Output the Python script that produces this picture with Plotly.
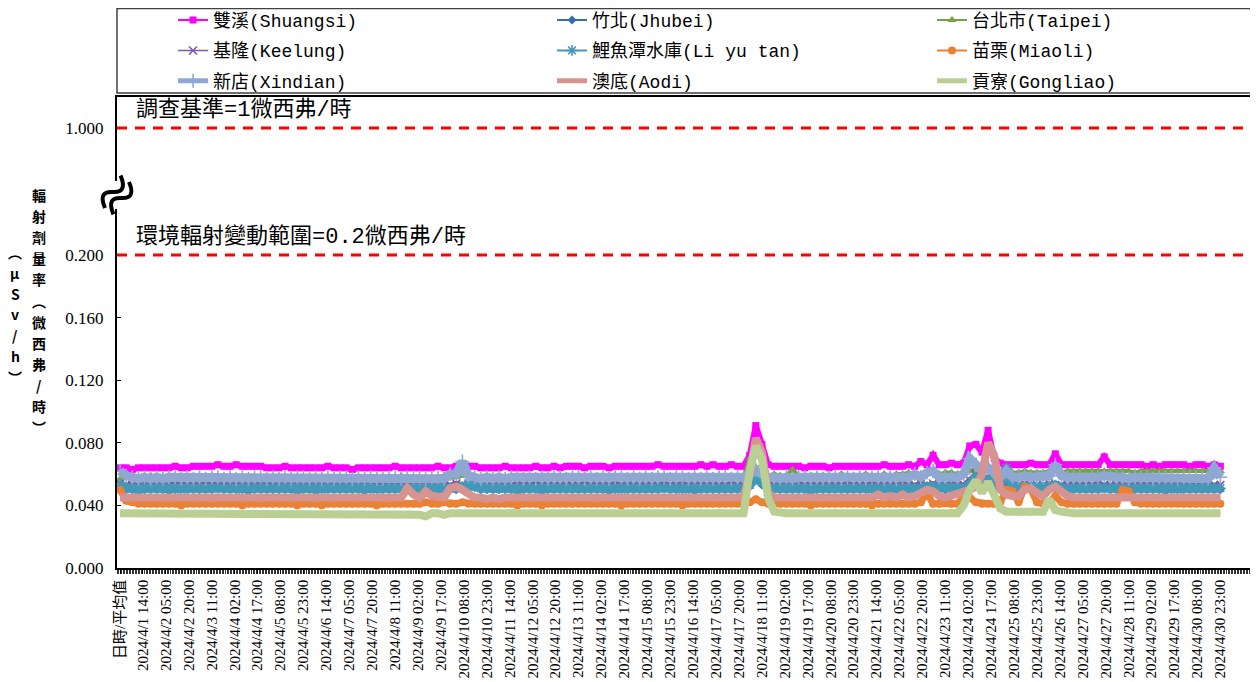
import plotly.graph_objects as go

# ---------------- categories / tick labels ----------------
tick_labels = [
    "日時/平均值",
    "2024/4/1 14:00", "2024/4/2 05:00", "2024/4/2 20:00", "2024/4/3 11:00",
    "2024/4/4 02:00", "2024/4/4 17:00", "2024/4/5 08:00", "2024/4/5 23:00",
    "2024/4/6 14:00", "2024/4/7 05:00", "2024/4/7 20:00", "2024/4/8 11:00",
    "2024/4/9 02:00", "2024/4/9 17:00", "2024/4/10 08:00", "2024/4/10 23:00",
    "2024/4/11 14:00", "2024/4/12 05:00", "2024/4/12 20:00", "2024/4/13 11:00",
    "2024/4/14 02:00", "2024/4/14 17:00", "2024/4/15 08:00", "2024/4/15 23:00",
    "2024/4/16 14:00", "2024/4/17 05:00", "2024/4/17 20:00", "2024/4/18 11:00",
    "2024/4/19 02:00", "2024/4/19 17:00", "2024/4/20 08:00", "2024/4/20 23:00",
    "2024/4/21 14:00", "2024/4/22 05:00", "2024/4/22 20:00", "2024/4/23 11:00",
    "2024/4/24 02:00", "2024/4/24 17:00", "2024/4/25 08:00", "2024/4/25 23:00",
    "2024/4/26 14:00", "2024/4/27 05:00", "2024/4/27 20:00", "2024/4/28 11:00",
    "2024/4/29 02:00", "2024/4/29 17:00", "2024/4/30 08:00", "2024/4/30 23:00",
]
tick_hours = list(range(0, 721, 15))      # category index of each label
sample_hours = list(range(0, 721, 4))     # category index of each sampled reading

# ---------------- readings (nSv/h), one row per day, 4-hourly ----------------
shuangsi = [64,
    64,63,64,64,64,64, 64,64,65,64,64,65, 65,65,65,66,65,65, 66,65,65,65,65,64,
    64,64,65,64,64,64, 64,64,64,65,64,64, 64,63,64,64,64,64, 64,64,65,64,64,64,
    64,64,64,65,64,64, 65,64,65,65,64,64, 64,64,65,64,64,64, 64,65,64,64,65,64,
    65,65,65,64,65,65, 65,64,65,65,65,65, 65,65,65,66,65,65, 65,65,65,65,66,65,
    66,65,65,66,65,65, 72,91,79,66,65,65, 65,65,65,64,65,65, 65,64,65,65,65,65,
    65,65,65,65,66,65, 65,65,66,65,68,66, 72,66,66,67,66,67, 78,79,74,88,70,67,
    66,66,66,66,67,66, 66,66,73,66,66,66, 66,66,66,66,71,66, 66,66,66,66,66,65,
    66,65,66,66,66,66, 65,66,66,65,66,65]
jhubei = [51,
    50,50,49,50,50,50, 50,49,50,50,50,50, 50,50,50,51,50,50, 50,50,49,50,50,50,
    50,50,50,50,49,50, 50,49,50,50,50,50, 50,50,50,49,50,50, 50,50,50,50,50,51,
    50,50,51,50,50,50, 50,51,51,52,50,50, 50,50,50,50,49,50, 50,50,49,50,50,50,
    50,50,50,50,50,50, 50,49,50,50,50,50, 50,50,50,50,51,50, 50,50,50,49,50,50,
    50,50,50,50,50,50, 52,56,53,50,50,50, 50,50,50,50,49,50, 50,50,50,50,50,50,
    50,50,50,51,50,50, 50,50,50,50,51,50, 51,50,50,50,50,51, 52,55,53,54,51,50,
    52,50,50,51,51,50, 50,51,51,50,50,50, 50,50,50,50,51,50, 50,50,50,50,50,50,
    50,50,49,50,50,50, 50,50,50,50,50,50]
taipei = [57,
    58,58,58,58,59,58, 58,58,58,58,58,58, 58,58,59,58,58,58, 58,58,58,58,58,58,
    58,58,58,58,58,58, 58,58,58,58,58,58, 58,58,58,58,58,58, 58,58,58,59,58,58,
    58,58,58,58,59,58, 58,59,60,59,58,58, 58,58,58,58,58,58, 58,58,59,58,58,58,
    59,58,58,59,58,58, 58,59,58,58,58,59, 58,58,59,58,58,58, 59,58,58,59,58,58,
    58,59,58,58,59,58, 70,77,66,59,60,59, 59,63,59,59,59,59, 59,59,59,60,59,59,
    59,60,59,59,60,59, 60,60,61,60,60,61, 61,60,61,61,60,61, 62,64,62,65,62,61,
    61,61,61,62,61,61, 61,62,62,61,62,62, 62,62,62,62,62,62, 62,62,62,61,62,62,
    62,62,62,62,62,62, 62,62,62,62,62,62]
keelung = [54,
    53,53,53,54,53,53, 53,53,54,53,53,53, 53,54,53,53,53,53, 53,53,53,53,54,53,
    53,53,53,53,53,53, 53,54,53,53,53,53, 53,53,53,54,53,53, 53,53,53,53,53,54,
    53,53,54,53,53,53, 54,53,54,55,53,53, 53,53,53,53,54,53, 53,54,53,53,53,53,
    53,53,53,54,53,53, 53,53,54,53,53,53, 53,53,53,53,54,53, 53,54,53,53,53,53,
    53,53,53,54,53,53, 55,62,57,53,53,53, 53,53,54,53,53,53, 53,53,53,53,54,53,
    53,53,54,53,53,53, 53,54,53,53,54,53, 54,53,53,54,53,53, 56,60,57,58,55,54,
    54,53,53,54,53,53, 53,54,53,53,53,53, 53,53,53,54,53,53, 53,53,54,53,53,53,
    53,53,53,53,54,53, 53,54,53,53,53,53]
liyutan = [53,
    51,51,50,51,51,51, 51,51,51,50,51,51, 51,51,51,51,51,51, 51,50,51,51,51,51,
    51,51,51,51,50,51, 51,51,50,51,51,51, 51,51,51,51,51,50, 51,51,51,51,51,51,
    51,50,51,51,51,51, 51,52,53,52,51,51, 51,51,51,51,50,51, 51,51,50,51,51,51,
    51,51,51,51,51,51, 51,51,51,50,51,51, 51,51,51,51,51,51, 51,50,51,51,51,51,
    51,51,51,51,51,51, 53,58,55,51,51,51, 51,51,51,51,50,51, 51,51,51,51,51,51,
    51,51,50,51,51,51, 51,51,51,51,51,52, 52,51,51,51,51,51, 53,58,55,56,54,53,
    64,52,52,52,52,51, 51,52,53,51,51,51, 51,51,51,51,51,51, 51,51,51,51,51,51,
    51,51,51,51,50,51, 51,51,51,51,51,51]
miaoli = [50,
    43,42,41,41,41,41, 41,41,41,40,41,41, 41,41,41,41,41,41, 41,40,41,41,41,41,
    41,41,41,41,40,41, 41,41,40,41,41,41, 41,41,41,41,41,40, 41,41,41,41,41,41,
    41,42,41,41,42,41, 41,42,41,41,41,41, 41,41,41,41,40,41, 41,41,40,41,41,41,
    41,41,41,41,41,41, 41,41,41,40,41,41, 41,41,41,41,41,41, 41,40,41,41,41,41,
    41,41,41,41,41,41, 42,44,42,41,41,41, 41,41,41,41,40,41, 41,41,41,41,41,41,
    41,41,40,41,41,41, 41,41,41,41,42,48, 41,41,42,41,41,46, 45,42,41,41,41,42,
    50,49,42,52,50,42, 41,42,46,42,41,41, 41,41,41,41,41,41, 41,50,49,42,41,41,
    41,41,41,41,41,41, 41,41,41,41,41,41]
xindian = [62,
    59,58,57,58,57,58, 57,58,58,57,58,57, 58,57,58,58,57,58, 57,58,57,58,58,57,
    58,57,58,57,58,58, 57,58,57,58,57,58, 58,57,58,57,58,57, 57,58,58,57,58,58,
    58,57,58,58,57,60, 60,68,59,58,57,58, 57,58,57,58,58,57, 58,57,58,57,58,58,
    57,58,58,57,58,57, 58,57,58,58,57,58, 57,58,57,58,58,57, 58,58,57,58,57,58,
    57,58,58,57,58,58, 60,63,60,58,58,57, 58,57,58,58,57,58, 57,58,58,57,58,57,
    58,57,58,58,57,58, 57,58,58,60,58,61, 62,58,58,59,58,60, 70,66,62,64,60,58,
    62,58,58,59,58,58, 58,59,66,59,58,58, 58,57,58,58,59,58, 58,58,57,58,58,58,
    57,58,58,58,57,58, 58,58,58,57,64,58]
aodi = [45,
    45,44,45,44,45,45, 44,45,44,45,45,44, 45,45,44,45,44,45, 45,44,45,45,44,45,
    44,45,45,44,45,45, 45,44,45,45,44,45, 45,45,44,45,45,44, 45,44,45,45,51,47,
    45,49,46,45,45,51, 52,50,47,45,45,44, 45,44,45,45,44,45, 44,45,45,44,45,45,
    45,44,45,45,45,44, 45,45,44,45,45,45, 44,45,45,45,44,45, 45,45,44,45,45,45,
    45,44,45,45,45,45, 60,83,74,48,45,45, 45,44,45,45,45,44, 45,45,44,45,45,45,
    45,45,45,47,45,46, 45,47,45,46,48,50, 49,46,45,46,47,49, 50,52,60,80,72,50,
    47,46,46,50,51,48, 46,50,52,49,46,45, 45,45,44,45,45,45, 45,45,45,45,44,45,
    45,44,45,45,45,45, 45,45,45,44,45,45]
gongliao = [35,
    35,35,34,35,35,35, 35,34,35,35,35,34, 35,35,35,35,34,35, 35,35,35,34,35,35,
    35,35,34,35,35,35, 35,34,35,35,35,35, 35,35,35,35,34,35, 35,35,35,35,35,35,
    34,33,35,35,34,35, 35,35,35,35,35,35, 35,35,35,36,35,35, 35,35,35,35,35,35,
    36,35,35,35,35,35, 35,35,35,36,35,35, 35,35,35,35,35,36, 35,35,35,35,35,35,
    35,36,35,35,35,35, 62,78,70,45,36,35, 35,35,35,35,35,35, 35,35,36,35,35,35,
    35,35,35,35,35,35, 35,36,35,35,35,36, 36,35,35,36,35,40, 50,56,48,55,45,38,
    36,36,35,36,35,36, 36,44,37,36,35,35, 35,35,35,35,35,35, 35,35,35,35,35,35,
    35,35,35,35,35,35, 35,35,35,35,35,35]

series_names = ["雙溪(Shuangsi)", "竹北(Jhubei)", "台北市(Taipei)",
                "基隆(Keelung)", "鯉魚潭水庫(Li yu tan)", "苗栗(Miaoli)",
                "新店(Xindian)", "澳底(Aodi)", "貢寮(Gongliao)"]
series_values = [shuangsi, jhubei, taipei, keelung, liyutan, miaoli,
                 xindian, aodi, gongliao]

# reference levels (μSv/h)
ref_levels = [1.0, 0.2]
ref_texts = ["調查基準=1微西弗/時", "環境輻射變動範圍=0.2微西弗/時"]

y_tick_values = [0.0, 0.04, 0.08, 0.12, 0.16, 0.2, 1.0]
y_tick_texts = ["0.000", "0.040", "0.080", "0.120", "0.160", "0.200", "1.000"]

# y-axis title, written vertically in two columns
y_title_main = list("輻射劑量率︵微西弗/時︶")
y_title_unit = ["︵", "μ", "S", "v", "/", "h", "︶"]

# ---------------- broken y scale ----------------
BREAK_AT = 0.2
COMPRESS = 0.1015


def ypos(v):
    return v if v <= BREAK_AT else BREAK_AT + (v - BREAK_AT) * COMPRESS


# ---------------- styles ----------------
# band: width of the dense hourly ribbon drawn beneath; width: legend line width
styles = [
    dict(color="#FF00FF", band=6, width=2, symbol="square", size=7, legend="legend"),
    dict(color="#3B6AAE", band=5, width=2, symbol="diamond", size=7, legend="legend2"),
    dict(color="#77A244", band=4, width=2, symbol="triangle-up", size=8, legend="legend3"),
    dict(color="#7A5E9E", band=5, width=1.5, symbol="x-thin-open", size=8, legend="legend"),
    dict(color="#4299BA", band=9, width=2, symbol="asterisk-open", size=9, legend="legend2"),
    dict(color="#EA8134", band=7, width=2, symbol="circle", size=8, legend="legend3"),
    dict(color="#8EA8D2", band=9, width=5, symbol="cross-thin-open", size=10, legend="legend"),
    dict(color="#D6938F", band=8, width=5, symbol=None, size=0, legend="legend2"),
    dict(color="#B9CF93", band=8, width=5, symbol=None, size=0, legend="legend3"),
]

fig = go.Figure()
for name, vals, st in zip(series_names, series_values, styles):
    y = [ypos(v / 1000.0) for v in vals]
    # dense ribbon (hourly readings overlap into a solid band)
    fig.add_trace(go.Scatter(x=sample_hours, y=y, mode="lines", showlegend=False,
                             legend=st["legend"], legendgroup=name, hoverinfo="skip",
                             line=dict(color=st["color"], width=st["band"])))
    kw = dict(x=sample_hours, y=y, name=name, legend=st["legend"],
              legendgroup=name,
              line=dict(color=st["color"], width=st["width"]))
    if st["symbol"]:
        thin = st["symbol"].endswith("-open")
        kw["mode"] = "lines+markers"
        kw["marker"] = dict(symbol=st["symbol"], size=st["size"], color=st["color"],
                            line=dict(width=1.6 if thin else 0, color=st["color"]))
    else:
        kw["mode"] = "lines"
    fig.add_trace(go.Scatter(**kw))

# reference dashed lines + labels
shapes = []
annotations = []
ann_font = dict(family="Liberation Mono, Noto Sans CJK TC", size=22, color="black")
for lv, txt in zip(ref_levels, ref_texts):
    shapes.append(dict(type="line", xref="paper", x0=0, x1=1, yref="y",
                       y0=ypos(lv), y1=ypos(lv),
                       line=dict(color="#FF0000", width=3, dash="10px,8px")))
    annotations.append(dict(text=txt, xref="paper", x=0.015, xanchor="left",
                            yref="y", y=ypos(lv), yanchor="bottom", yshift=3,
                            showarrow=False, font=ann_font))

# axis break mark
shapes.append(dict(type="rect", xref="paper", xsizemode="pixel", xanchor=0,
                   x0=-3, x1=3, yref="paper", ysizemode="pixel", yanchor=0.792,
                   y0=-14, y1=14, fillcolor="white", line=dict(width=0),
                   layer="above"))
for p in ["M -12,-13 C -17.5,0 -13,3.5 -4.2,3 C 4.5,2.4 9,6.4 3.6,19.4",
          "M -3.6,-19.4 C -9,-6.4 -4.5,-2.4 4.2,-3 C 13,-3.5 17.5,0 12,13"]:
    shapes.append(dict(type="path", path=p, xref="paper", xsizemode="pixel", xanchor=0,
                       yref="paper", ysizemode="pixel", yanchor=0.792,
                       line=dict(color="black", width=4), layer="above"))

# legend frame
shapes.append(dict(type="rect", xref="paper", yref="paper", x0=0, x1=1,
                   y0=1.0085, y1=1.1878, line=dict(color="#404040", width=1.5),
                   fillcolor="rgba(0,0,0,0)"))

# y axis title: one upright character per line
title_font = dict(family="Noto Sans CJK TC", size=14, color="black", weight="bold")
for col_chars, col_x, col_y, step in [(y_title_main, -0.0686, 0.7919, 21.1),
                                      (y_title_unit, -0.0897, 0.6709, 20.8)]:
    for k, ch in enumerate(col_chars):
        annotations.append(dict(text=ch, xref="paper", x=col_x, xanchor="center",
                                yref="paper", y=col_y, yanchor="middle",
                                yshift=-step * k, showarrow=False, font=title_font))

legend_font = dict(family="Liberation Mono, Noto Sans CJK TC", size=18, color="black")
legend_common = dict(xanchor="left", yanchor="top", y=1.202, font=legend_font,
                     bgcolor="rgba(0,0,0,0)", borderwidth=0, tracegroupgap=4,
                     traceorder="grouped", itemwidth=30, orientation="v")

fig.update_layout(
    template="none",
    width=1250, height=674,
    margin=dict(l=109, r=4, t=89, b=114, autoexpand=False),
    paper_bgcolor="white", plot_bgcolor="white",
    showlegend=True,
    shapes=shapes, annotations=annotations,
    legend=dict(x=0.0493, **legend_common),
    legend2=dict(x=0.3826, **legend_common),
    legend3=dict(x=0.7168, **legend_common),
    xaxis=dict(range=[-2, 742], tickmode="array", tickvals=tick_hours,
               ticktext=tick_labels, tickangle=-90, showgrid=False, zeroline=False,
               ticks="outside", ticklen=4, tickcolor="black",
               tickfont=dict(family="Liberation Serif, Noto Sans CJK TC", size=15,
                             color="black"),
               minor=dict(ticks="outside", ticklen=4, tick0=0, dtick=1,
                          tickcolor="#333333", tickwidth=1, showgrid=False),
               showline=True, linecolor="black", linewidth=1.5, mirror=True),
    yaxis=dict(range=[0, 0.301], tickmode="array",
               tickvals=[ypos(v) for v in y_tick_values], ticktext=y_tick_texts,
               showgrid=False, zeroline=False, ticks="inside", ticklen=4,
               tickcolor="black", ticklabelstandoff=8,
               tickfont=dict(family="Liberation Serif", size=17, color="black"),
               showline=True, linecolor="black", linewidth=2, mirror=True),
)

fig.write_html("out.html")
